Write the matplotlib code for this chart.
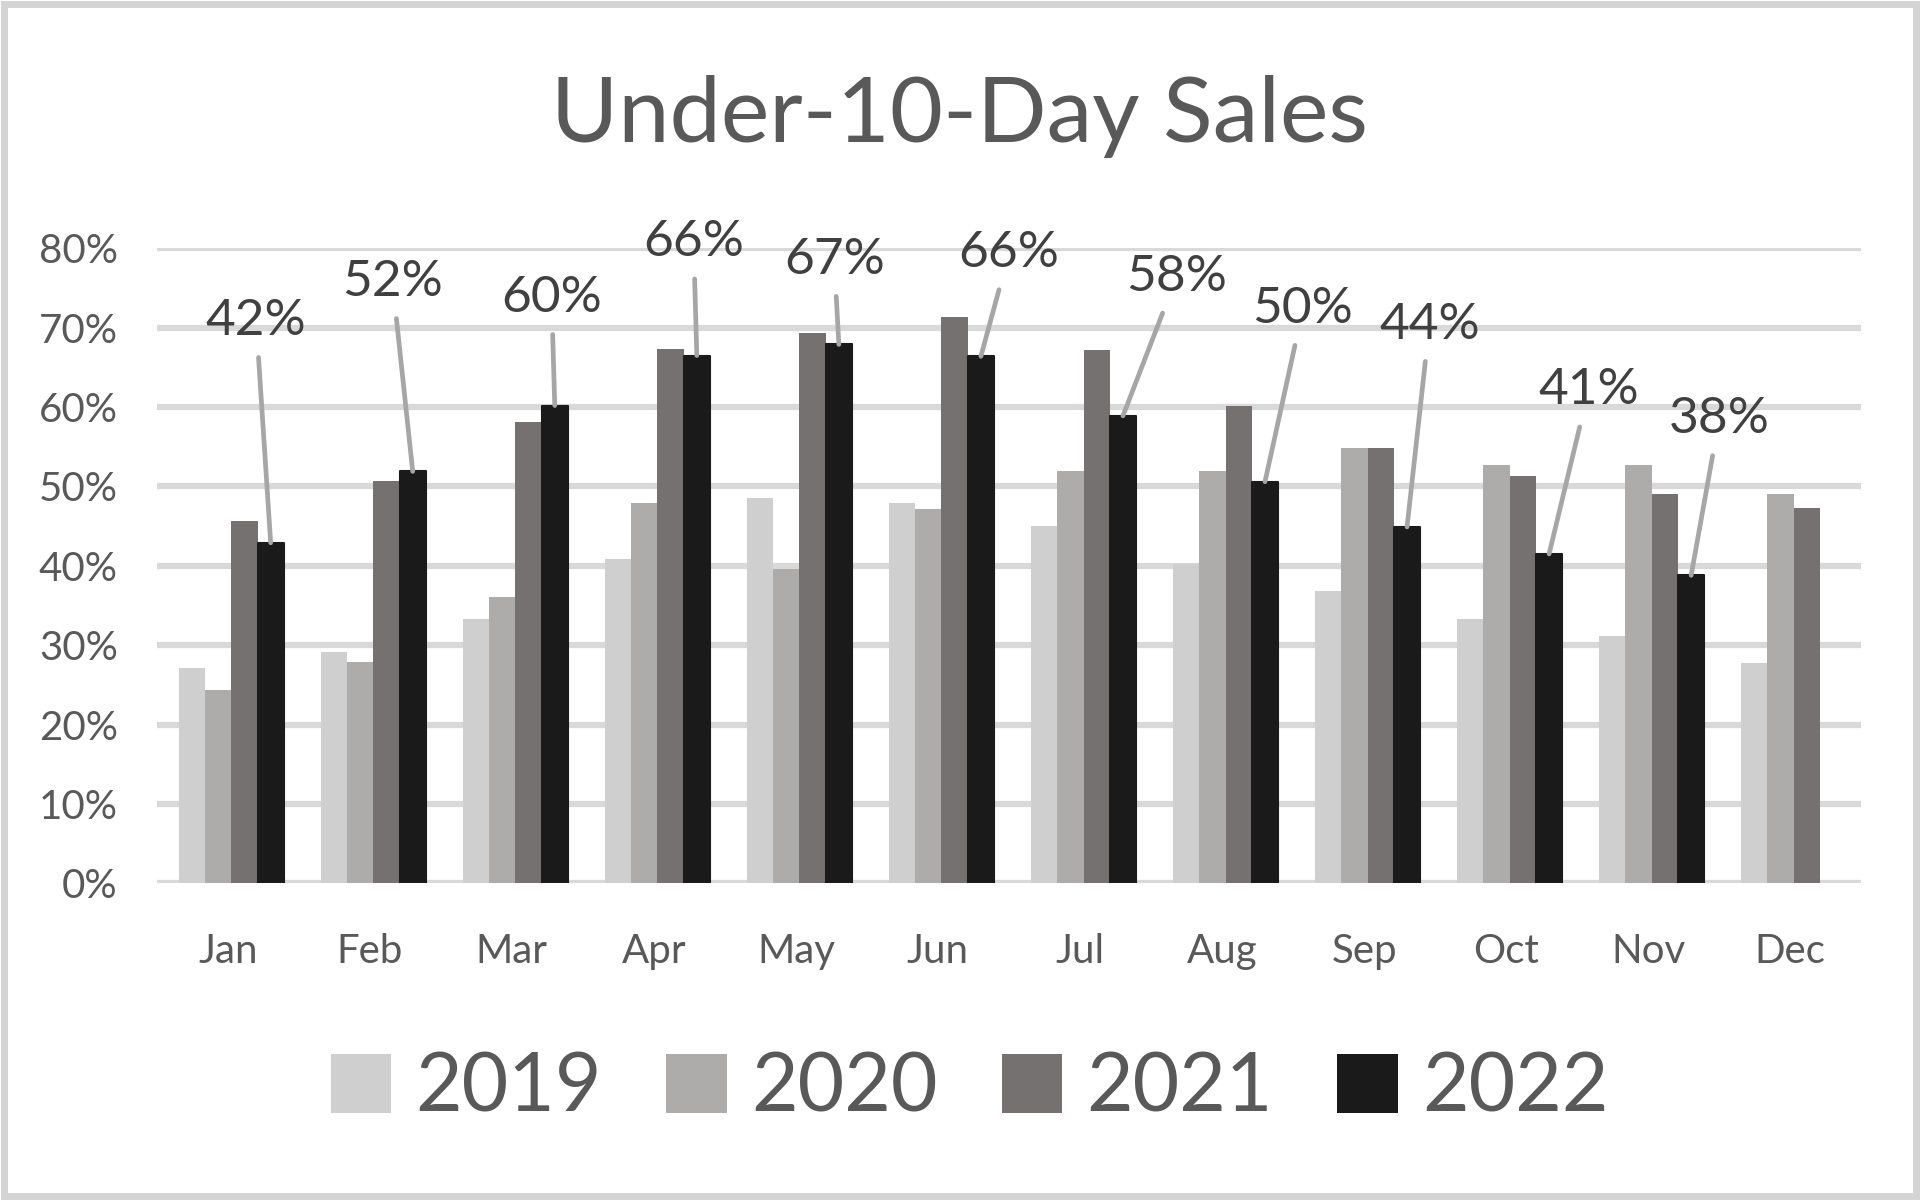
import matplotlib
matplotlib.use("Agg")
import matplotlib.pyplot as plt
import numpy as np
from matplotlib.patches import Rectangle, Patch

months = ["Jan", "Feb", "Mar", "Apr", "May", "Jun", "Jul", "Aug", "Sep", "Oct", "Nov", "Dec"]
years = ["2019", "2020", "2021", "2022"]

sales_2019 = [0.271, 0.291, 0.333, 0.409, 0.485, 0.479, 0.450, 0.402, 0.368, 0.333, 0.312, 0.278]
sales_2020 = [0.243, 0.279, 0.361, 0.479, 0.396, 0.472, 0.520, 0.520, 0.548, 0.527, 0.527, 0.491]
sales_2021 = [0.457, 0.507, 0.581, 0.673, 0.693, 0.713, 0.672, 0.602, 0.548, 0.513, 0.491, 0.473]
sales_2022 = [0.429, 0.519, 0.602, 0.665, 0.679, 0.664, 0.589, 0.506, 0.449, 0.415, 0.388, None]
labels_2022 = ["42%", "52%", "60%", "66%", "67%", "66%", "58%", "50%", "44%", "41%", "38%"]

# where each 2022 data label sits (x in category units, y in axis units)
label_pos = [(0.20, 0.709), (1.16, 0.758), (2.28, 0.738), (3.28, 0.808), (4.27, 0.786),
             (5.50, 0.794), (6.68, 0.764), (7.57, 0.724), (8.46, 0.704), (9.58, 0.621),
             (10.50, 0.585)]

colors = ["#d0cfcf", "#aeabab", "#767171", "#1a1a1a"]
TEXT = "#595959"
GRID = "#d9d9d9"
FONT = ["Lato", "DejaVu Sans"]

plt.rcParams["font.family"] = FONT

fig = plt.figure(figsize=(19.2, 12), dpi=100)
ax = fig.add_axes([0.0816, 0.264, 0.8878, 0.529])

x = np.arange(len(months))
w = 0.185
series = [sales_2019, sales_2020, sales_2021, sales_2022]
for i, (vals, c) in enumerate(zip(series, colors)):
    v = np.array([np.nan if s is None else s for s in vals], dtype=float)
    kw = {}
    if i == 3:
        kw = dict(edgecolor=c, linewidth=1.5, joinstyle="round")
    ax.bar(x + (i - 1.5) * w + 0.025, v, width=w, color=c, zorder=3, **kw)

xb = x + 1.5 * w + 0.025
for j, lab in enumerate(labels_2022):
    lx, ly = label_pos[j]
    ax.annotate(lab, xy=(xb[j], sales_2022[j]), xytext=(lx, ly),
                textcoords="data", ha="center", va="center",
                fontsize=37, color="#404040", zorder=5,
                arrowprops=dict(arrowstyle="-", color="#a6a6a6", lw=3.4,
                                shrinkA=8, shrinkB=0))

ax.set_xlim(-0.5, 11.5)
ax.set_ylim(0, 0.8)
ax.set_yticks(np.arange(0, 0.81, 0.1))
ax.set_yticklabels([f"{int(round(t * 100))}%" for t in np.arange(0, 0.81, 0.1)])
ax.set_xticks(x)
ax.set_xticklabels(months)
ax.tick_params(axis="both", length=0, colors=TEXT)
ax.tick_params(axis="x", pad=36, labelsize=29)
ax.tick_params(axis="y", pad=28, labelsize=29)
ax.yaxis.grid(True, color=GRID, linewidth=4.5, zorder=0)
ax.set_axisbelow(True)
for sp in ax.spines.values():
    sp.set_visible(False)

fig.text(0.4995, 0.903, "Under-10-Day Sales", ha="center", va="center",
         fontsize=66, color=TEXT)

handles = [Patch(facecolor=c, edgecolor="none") for c in colors]
fig.legend(handles, years, loc="center", bbox_to_anchor=(0.505, 0.093), ncol=4,
           frameon=False, fontsize=58, handlelength=0.75, handleheight=0.75,
           handletextpad=0.3, columnspacing=0.8, labelcolor=TEXT)

fig.patches.append(Rectangle((0.002, 0.003), 0.996, 0.994, transform=fig.transFigure,
                             fill=False, edgecolor="#d4d4d4", linewidth=5))

fig.savefig("out.png", dpi=100)
